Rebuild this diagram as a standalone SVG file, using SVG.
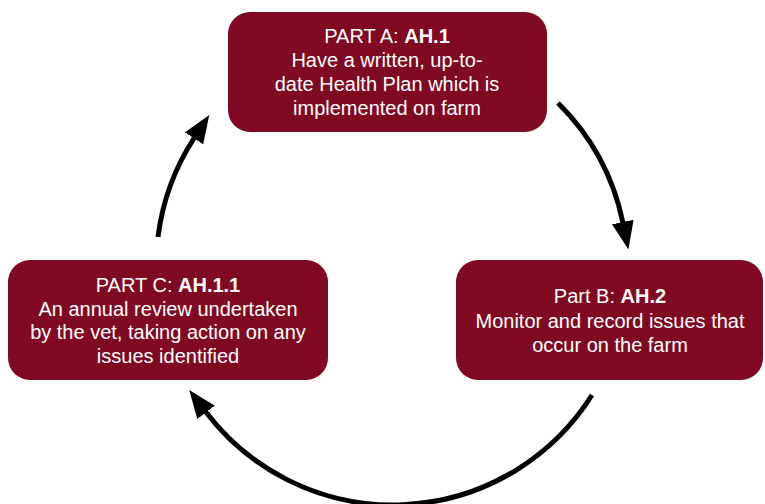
<svg xmlns="http://www.w3.org/2000/svg" width="765" height="504" viewBox="0 0 765 504">
<style>
.box{fill:#7f0a21;}
.t{font-family:"Liberation Sans",Arial,sans-serif;font-size:20px;fill:#ffffff;text-anchor:middle;}
.b{font-weight:bold;}
.arc{fill:none;stroke:#000;stroke-width:5;}
</style>
<defs>
<marker id="ah" markerUnits="userSpaceOnUse" markerWidth="28" markerHeight="22" viewBox="0 0 28 22" refX="1" refY="11" orient="auto">
<path d="M0,0 L28,11 L0,22 z" fill="#000"/>
</marker>
</defs>
<g id="nodeA">
<rect class="box" x="228" y="12" width="319" height="120" rx="22"/>
<text class="t" x="387" y="43">PART A: <tspan class="b">AH.1</tspan></text>
<text class="t" x="387" y="67">Have a written, up-to-</text>
<text class="t" x="387" y="91">date Health Plan which is</text>
<text class="t" x="387" y="115">implemented on farm</text>
</g>
<g id="nodeB">
<rect class="box" x="456" y="260" width="307" height="120" rx="22"/>
<text class="t" x="610" y="303">Part B: <tspan class="b">AH.2</tspan></text>
<text class="t" x="610" y="328">Monitor and record issues that</text>
<text class="t" x="610" y="352">occur on the farm</text>
</g>
<g id="nodeC">
<rect class="box" x="8" y="260" width="320" height="120" rx="22"/>
<text class="t" x="168" y="292">PART C: <tspan class="b">AH.1.1</tspan></text>
<text class="t" x="168" y="316">An annual review undertaken</text>
<text class="t" x="168" y="339">by the vet, taking action on any</text>
<text class="t" x="168" y="363">issues identified</text>
</g>
<g id="connectors">
<path class="arc" d="M558,103 A235,235 0 0 1 623,223" marker-end="url(#ah)"/>
<path class="arc" d="M592,395 A235,235 0 0 1 205.5,411.5" marker-end="url(#ah)"/>
<path class="arc" d="M158,237 A235,235 0 0 1 194.5,137.5" marker-end="url(#ah)"/>
</g>
</svg>
